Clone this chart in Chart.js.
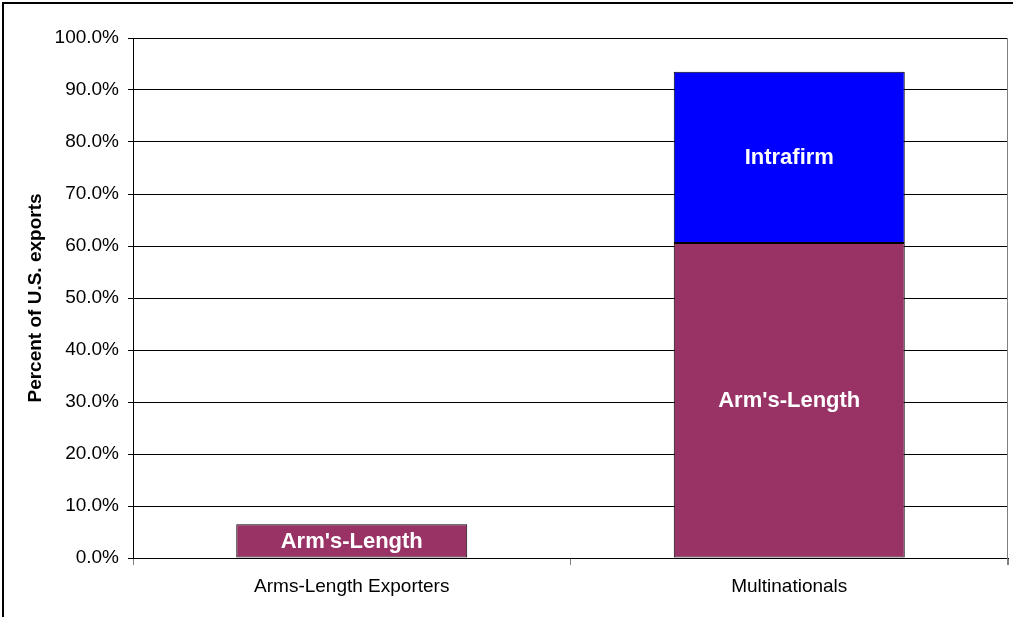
<!DOCTYPE html>
<html>
<head>
<meta charset="utf-8">
<script src="https://cdn.jsdelivr.net/npm/chart.js@4"></script>
<style>
  html, body { margin: 0; padding: 0; background: #fff; }
  #wrap { width: 1013px; height: 617px; position: relative; }
</style>
</head>
<body>
<div id="wrap"><canvas id="exports-chart" width="1013" height="617"></canvas></div>
<script>
var categories = ['Arms-Length Exporters', 'Multinationals'];
var armsLength = [6.5, 60.6];
var intrafirm = [null, 32.9];
var seriesNames = ["Arm's-Length", 'Intrafirm'];

var FONT = '"Liberation Sans", Arial, sans-serif';

// draws the series name in the middle of each bar
var barLabels = {
  id: 'barLabels',
  afterDatasetsDraw: function (chart) {
    var ctx = chart.ctx;
    ctx.save();
    ctx.fillStyle = '#fff';
    ctx.font = 'bold 22px ' + FONT;
    ctx.textAlign = 'center';
    ctx.textBaseline = 'middle';
    chart.data.datasets.forEach(function (ds, i) {
      chart.getDatasetMeta(i).data.forEach(function (bar, j) {
        if (ds.data[j] == null) return;
        var mid = (bar.y + bar.base) / 2;
        ctx.fillText(ds.label, bar.x, mid + 1);
      });
    });
    ctx.restore();
  }
};

var frame = {
  id: 'frame',
  beforeDraw: function (chart) {
    var ctx = chart.ctx;
    ctx.save();
    ctx.fillStyle = '#fff';
    ctx.fillRect(0, 0, chart.width, chart.height);
    ctx.strokeStyle = '#000';
    ctx.lineWidth = 2;
    ctx.beginPath();
    ctx.moveTo(3, chart.height);
    ctx.lineTo(3, 3);
    ctx.lineTo(chart.width, 3);
    ctx.stroke();
    ctx.restore();
  },
  afterDraw: function (chart) {
    var a = chart.chartArea;
    var ctx = chart.ctx;
    ctx.save();
    ctx.strokeStyle = '#808080';
    ctx.lineWidth = 1;
    ctx.beginPath();
    ctx.moveTo(a.right - 0.5, a.top);
    ctx.lineTo(a.right - 0.5, a.bottom + 7);
    ctx.stroke();
    ctx.restore();
  }
};

var ctx = document.getElementById('exports-chart').getContext('2d');
var myChart = new Chart(ctx, {
  type: 'bar',
  data: {
    labels: categories,
    datasets: [{
      label: seriesNames[0],
      data: armsLength,
      backgroundColor: '#993366',
      borderColor: '#000',
      borderWidth: 1,
      borderSkipped: false
    }, {
      label: seriesNames[1],
      data: intrafirm,
      backgroundColor: '#0000ff',
      borderColor: '#000',
      borderWidth: 1,
      borderSkipped: false
    }]
  },
  options: {
    responsive: false,
    animation: false,
    layout: { padding: { left: 10, top: 38, right: 5, bottom: 0 } },
    categoryPercentage: 1,
    barPercentage: 0.528,
    plugins: {
      legend: { display: false },
      tooltip: { enabled: false }
    },
    scales: {
      x: {
        stacked: true,
        offset: true,
        grid: {
          offset: true,
          drawOnChartArea: false,
          color: '#808080',
          tickLength: 7
        },
        border: { color: '#000', width: 1 },
        ticks: {
          color: '#000',
          padding: 10,
          font: { family: FONT, size: 19 }
        },
        afterFit: function (scale) { scale.height = 59; }
      },
      y: {
        stacked: true,
        min: 0,
        max: 100,
        grid: {
          color: '#000',
          tickLength: 5
        },
        border: { color: '#000', width: 1 },
        ticks: {
          stepSize: 10,
          color: '#000',
          padding: 9,
          font: { family: FONT, size: 19 },
          callback: function (v) { return v.toFixed(1) + '%'; }
        },
        title: {
          display: true,
          text: 'Percent of U.S. exports',
          color: '#000',
          padding: { top: 14, bottom: 12 },
          font: { family: FONT, size: 19, weight: 'bold' }
        },
        afterFit: function (scale) { scale.width = 123; }
      }
    }
  },
  plugins: [frame, barLabels]
});
</script>
</body>
</html>
